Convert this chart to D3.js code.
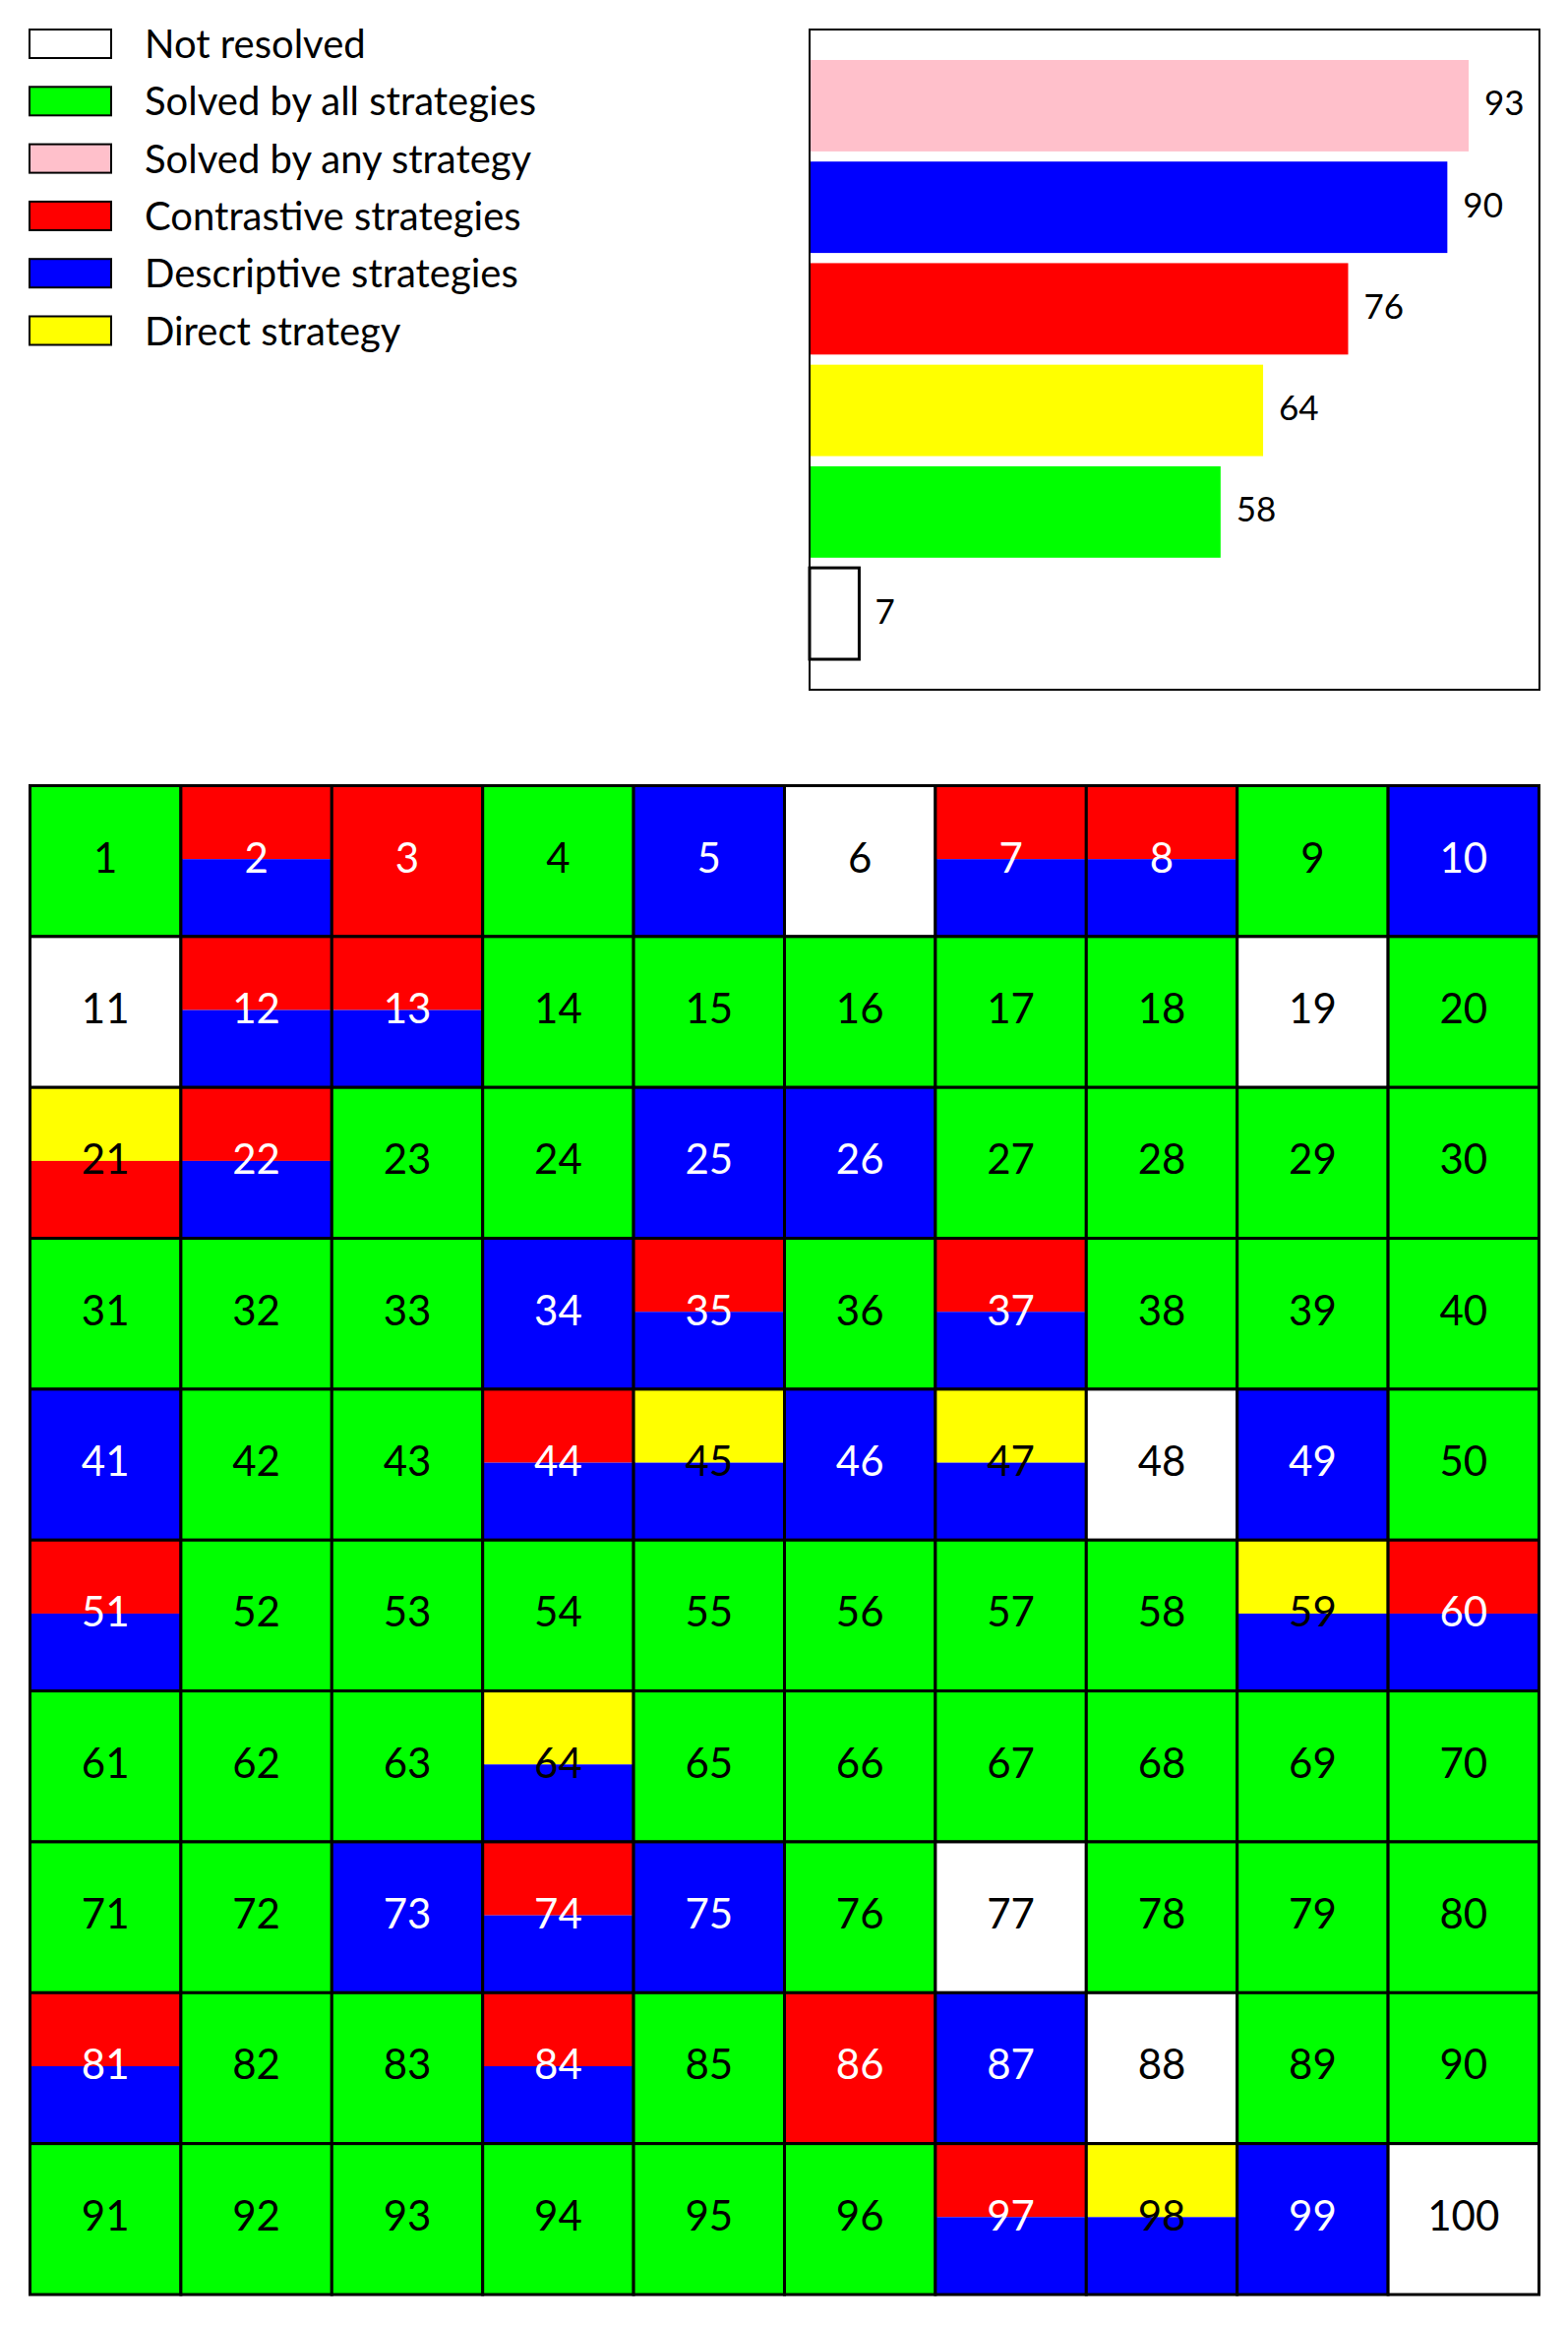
<!DOCTYPE html>
<html>
<head>
<meta charset="utf-8">
<script src="https://cdn.jsdelivr.net/npm/d3@7"></script>
<style>
  html, body { margin: 0; padding: 0; background: #fff; }
  svg { display: block; }
  text { font-family: Lato, "Liberation Sans", sans-serif; }
</style>
</head>
<body>
<svg id="chart"></svg>
<script>
(function () {
    'use strict';

    const width = 1594;
    const height = 2363;

    // legend categories and colours
    const categories = ['Not resolved', 'Solved by all strategies', 'Solved by any strategy',
        'Contrastive strategies', 'Descriptive strategies', 'Direct strategy'];
    const colors = ['#ffffff', '#00ff00', '#ffc0cb', '#ff0000', '#0000ff', '#ffff00'];

    // bar chart (top to bottom)
    const barLabels = ['Solved by any strategy', 'Descriptive strategies', 'Contrastive strategies',
        'Direct strategy', 'Solved by all strategies', 'Not resolved'];
    const barValues = [93, 90, 76, 64, 58, 7];

    // puzzle grid
    const puzzleCount = 100;
    const notResolved = [6, 11, 19, 48, 77, 88, 100];
    const partialDirect = [21, 45, 47, 59, 64, 98];
    const partialContrastive = [2, 3, 7, 8, 12, 13, 21, 22, 35, 37, 44, 51, 60, 74, 81, 84, 86, 97];
    const partialDescriptive = [2, 5, 7, 8, 10, 12, 13, 22, 25, 26, 34, 35, 37, 41, 44, 45, 46, 47,
        49, 51, 59, 60, 64, 73, 74, 75, 81, 84, 87, 97, 98, 99];

    const color = d3.scaleOrdinal().domain(categories).range(colors);

    const svg = d3.select('#chart')
        .attr('width', width)
        .attr('height', height)
        .attr('viewBox', [0, 0, width, height]);

    // ---- legend ----
    const legend = svg.append('g').classed('legend', true);
    const ly = d3.scalePoint().domain(categories).range([30, 30 + 58.3 * 5]);
    const items = legend.selectAll('g').data(categories).join('g')
        .attr('transform', d => `translate(0,${ly(d)})`);
    items.append('rect')
        .attr('x', 30).attr('y', 0)
        .attr('width', 83).attr('height', 29)
        .attr('fill', d => color(d))
        .attr('stroke', '#000').attr('stroke-width', 2);
    items.append('text')
        .attr('x', 147).attr('y', 29)
        .attr('font-size', 40)
        .text(d => d);

    // ---- bar chart ----
    const box = { left: 823, right: 1565, top: 30, bottom: 701 };
    const bx = d3.scaleLinear().domain([0, 103]).range([box.left, box.right]);
    const by = d3.scaleBand().domain(barLabels).range([box.top, box.bottom])
        .paddingInner(0.1).paddingOuter(0.3);
    const bars = svg.append('g').classed('bars', true);
    const barData = barLabels.map((k, i) => ({ key: k, value: barValues[i] }));
    bars.selectAll('rect').data(barData).join('rect')
        .attr('x', bx(0))
        .attr('y', d => by(d.key))
        .attr('width', d => bx(d.value) - bx(0))
        .attr('height', by.bandwidth())
        .attr('fill', d => color(d.key))
        .attr('stroke', d => d.key === 'Not resolved' ? '#000' : 'none')
        .attr('stroke-width', 3);
    bars.selectAll('text').data(barData).join('text')
        .attr('x', d => bx(d.value) + 16)
        .attr('y', d => by(d.key) + by.bandwidth() / 2 + 10)
        .attr('font-size', 35)
        .text(d => d.value);
    svg.append('rect')
        .attr('x', box.left).attr('y', box.top)
        .attr('width', box.right - box.left).attr('height', box.bottom - box.top)
        .attr('fill', 'none').attr('stroke', '#000').attr('stroke-width', 2);

    // ---- puzzle grid ----
    const ids = d3.range(1, puzzleCount + 1);
    const gx = d3.scaleBand().domain(d3.range(10)).range([30.5, 1564.5]);
    const gy = d3.scaleBand().domain(d3.range(10)).range([798.5, 2332]);
    const cells = ids.map(id => {
        let strategies;
        if (notResolved.includes(id)) strategies = ['Not resolved'];
        else {
            strategies = [];
            if (partialDirect.includes(id)) strategies.push('Direct strategy');
            if (partialContrastive.includes(id)) strategies.push('Contrastive strategies');
            if (partialDescriptive.includes(id)) strategies.push('Descriptive strategies');
            if (!strategies.length) strategies = ['Solved by all strategies'];
        }
        return { id, col: (id - 1) % 10, row: Math.floor((id - 1) / 10), strategies };
    });

    const grid = svg.append('g').classed('grid', true);
    const cellG = grid.selectAll('g').data(cells).join('g')
        .attr('transform', d => `translate(${gx(d.col)},${gy(d.row)})`);
    const s = gx.bandwidth();
    cellG.selectAll('rect.stripe')
        .data(d => d.strategies.map((k, i) => ({ k, i, n: d.strategies.length })))
        .join('rect').classed('stripe', true)
        .attr('x', 0)
        .attr('y', d => d.i === 0 ? 0 : s / 2 - 2)
        .attr('width', s)
        .attr('height', d => d.n === 1 ? s : (d.i === 0 ? s / 2 - 2 : s / 2 + 2))
        .attr('fill', d => color(d.k));
    cellG.append('rect')
        .attr('width', s).attr('height', s)
        .attr('fill', 'none').attr('stroke', '#000').attr('stroke-width', 3);
    const whiteText = d => !d.strategies.includes('Direct strategy') &&
        (d.strategies.includes('Contrastive strategies') || d.strategies.includes('Descriptive strategies'));
    cellG.append('text')
        .attr('x', s / 2).attr('y', s / 2 + 11.5)
        .attr('text-anchor', 'middle')
        .attr('font-size', 42)
        .attr('fill', d => whiteText(d) ? '#fff' : '#000')
        .text(d => d.id);
})();
</script>
</body>
</html>
